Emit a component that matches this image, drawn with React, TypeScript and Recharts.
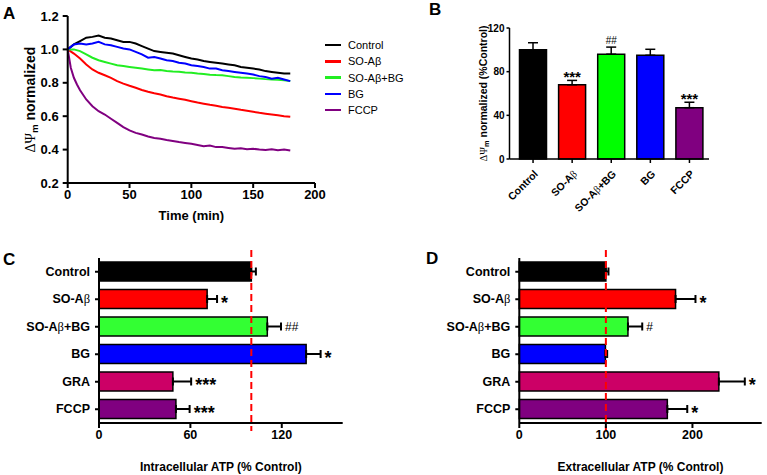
import React from 'react';
import {
  LineChart, Line, XAxis, YAxis, ComposedChart, Bar, ErrorBar, Cell, LabelList, ReferenceLine,
} from 'recharts';

const SANS = '"Liberation Sans", Arial, sans-serif';
const SERIF = '"Liberation Serif", "DejaVu Serif", serif';

// A: normalized ΔΨm over time, one reading every 5 min
const TIME_MIN = [0, 5, 10, 15, 20, 25, 30, 35, 40, 45, 50, 55, 60, 65, 70, 75, 80, 85, 90, 95, 100, 105, 110, 115, 120, 125, 130, 135, 140, 145, 150, 155, 160, 165, 170, 175, 180];
const CONTROL_TRACE = [1.0, 1.03, 1.05, 1.07, 1.075, 1.083, 1.07, 1.065, 1.055, 1.045, 1.045, 1.035, 1.02, 1.005, 0.99, 0.985, 0.98, 0.975, 0.965, 0.955, 0.945, 0.94, 0.93, 0.925, 0.92, 0.915, 0.91, 0.905, 0.895, 0.89, 0.885, 0.88, 0.87, 0.865, 0.86, 0.855, 0.855];
const SOAB_TRACE = [1.0, 0.975, 0.945, 0.91, 0.88, 0.86, 0.845, 0.83, 0.81, 0.795, 0.782, 0.77, 0.757, 0.746, 0.737, 0.73, 0.72, 0.712, 0.705, 0.698, 0.69, 0.682, 0.675, 0.668, 0.662, 0.655, 0.65, 0.645, 0.638, 0.632, 0.626, 0.62, 0.615, 0.61, 0.605, 0.6, 0.596];
const SOAB_BG_TRACE = [1.0, 1.0, 0.99, 0.97, 0.95, 0.935, 0.925, 0.915, 0.905, 0.9, 0.895, 0.89, 0.885, 0.88, 0.875, 0.876, 0.87, 0.867, 0.866, 0.862, 0.86, 0.855, 0.852, 0.848, 0.846, 0.845, 0.84, 0.835, 0.832, 0.83, 0.828, 0.825, 0.822, 0.82, 0.818, 0.815, 0.81];
const BG_TRACE = [1.0, 1.03, 1.035, 1.03, 1.035, 1.045, 1.03, 1.025, 1.015, 1.005, 1.0, 0.985, 0.97, 0.95, 0.955, 0.945, 0.935, 0.93, 0.92, 0.915, 0.905, 0.9, 0.895, 0.885, 0.885, 0.875, 0.87, 0.865, 0.86, 0.855, 0.85, 0.84, 0.835, 0.825, 0.83, 0.82, 0.81];
// FCCP falls fast, so the first minutes are sampled more densely
const FCCP_TIME = [0, 2.5, 5, 7.5, 10, 15, 20, 25, 30, 35, 40, 45, 50, 55, 60, 65, 70, 75, 80, 85, 90, 95, 100, 105, 110, 115, 120, 125, 130, 135, 140, 145, 150, 155, 160, 165, 170, 175, 180];
const FCCP_TRACE = [1.0, 0.89, 0.83, 0.79, 0.755, 0.7, 0.66, 0.63, 0.61, 0.585, 0.56, 0.535, 0.515, 0.5, 0.49, 0.478, 0.47, 0.465, 0.458, 0.452, 0.445, 0.44, 0.435, 0.428, 0.42, 0.425, 0.415, 0.415, 0.41, 0.405, 0.408, 0.402, 0.405, 0.4, 0.398, 0.402, 0.396, 0.4, 0.394];

// B: ΔΨm normalized (% control), mean and upper SEM
const B_GROUPS = ['Control', 'SO-Aβ', 'SO-Aβ+BG', 'BG', 'FCCP'];
const B_MEAN = [100, 68, 96, 95, 47];
const B_SEM = [6.5, 4, 6.5, 5.5, 5];
const B_MARKS = ['', '***', '##', '', '***'];
const B_COLORS = ['#000000', '#ff0000', '#00ff00', '#0000ff', '#800080'];

// C/D: intracellular and extracellular ATP (% control)
const ATP_GROUPS = ['Control', 'SO-Aβ', 'SO-Aβ+BG', 'BG', 'GRA', 'FCCP'];
const ATP_COLORS = ['#000000', '#ff0000', '#33ff33', '#0000ff', '#cc0066', '#800080'];
const INTRA_MEAN = [100, 71, 110.5, 136, 48.5, 50.5];
const INTRA_SEM = [3, 6.5, 9, 9.5, 12, 9];
const INTRA_MARKS = ['', '*', '##', '*', '***', '***'];
const EXTRA_MEAN = [100, 180.5, 125.5, 99.5, 230.5, 171];
const EXTRA_SEM = [3, 23, 16.5, 2, 30, 23];
const EXTRA_MARKS = ['', '*', '#', '', '*', '*'];

const traces = [
  { name: 'Control', color: '#000000', time: TIME_MIN, values: CONTROL_TRACE },
  { name: 'SO-Aβ', color: '#ff0000', time: TIME_MIN, values: SOAB_TRACE },
  { name: 'SO-Aβ+BG', color: '#22ee22', time: TIME_MIN, values: SOAB_BG_TRACE },
  { name: 'BG', color: '#0000ff', time: TIME_MIN, values: BG_TRACE },
  { name: 'FCCP', color: '#800080', time: FCCP_TIME, values: FCCP_TRACE },
].map((s) => ({ ...s, data: s.time.map((t, i) => ({ t, v: s.values[i] })) }));

const bRows = B_GROUPS.map((name, i) => ({
  name, v: B_MEAN[i], e: [0, B_SEM[i]], top: B_MEAN[i] + B_SEM[i], mark: B_MARKS[i],
}));
const rowsFor = (mean: number[], sem: number[], marks: string[]) => ATP_GROUPS.map((name, i) => ({
  name, v: mean[i], e: [0, sem[i]], end: mean[i] + sem[i], mark: marks[i],
}));
const intraRows = rowsFor(INTRA_MEAN, INTRA_SEM, INTRA_MARKS);
const extraRows = rowsFor(EXTRA_MEAN, EXTRA_SEM, EXTRA_MARKS);

const axisLine = { stroke: '#000', strokeWidth: 2 };
const thinLine = { stroke: '#000', strokeWidth: 1.5 };
const boldTick = (size: number) => ({ fill: '#000', fontSize: size, fontWeight: 'bold', fontFamily: SANS });

// β is set in a serif face, as in the group names of the figure
const groupName = (name: string) => {
  const parts = name.split('β');
  return parts.flatMap((p, i) => (i === 0 ? [p] : [
    <tspan key={i} fontFamily={SERIF} fontWeight="normal">β</tspan>, p,
  ]));
};

const deltaPsiTitle = (offsetX: number, size: number, suffix: string) => (props: any) => {
  const vb = props.viewBox;
  const cx = vb.x + offsetX;
  const cy = vb.y + vb.height / 2;
  return (
    <text x={cx} y={cy} transform={`rotate(-90 ${cx} ${cy})`} textAnchor="middle" dominantBaseline="central"
      fill="#000" fontFamily={SANS} fontSize={size} fontWeight="bold">
      <tspan fontFamily={SERIF} fontWeight="normal">ΔΨ</tspan>
      <tspan fontSize={size * 0.7} dy={size * 0.3}>m</tspan>
      <tspan dy={-size * 0.3}>{suffix}</tspan>
    </text>
  );
};

const bottomTitle = (text: string, dy: number, size: number) => (props: any) => {
  const vb = props.viewBox;
  return (
    <text x={vb.x + vb.width / 2} y={vb.y + dy} textAnchor="middle" fill="#000"
      fontFamily={SANS} fontSize={size} fontWeight="bold">{text}</text>
  );
};

const slantTick = (props: any) => {
  const { x, y, payload } = props;
  return (
    <g transform={`translate(${x + 3},${y + 7}) rotate(-45)`}>
      <text textAnchor="end" dy="0.35em" fill="#000" fontFamily={SANS} fontSize={10.5} fontWeight="bold">
        {groupName(payload.value)}
      </text>
    </g>
  );
};

const groupTick = (props: any) => {
  const { x, y, payload } = props;
  return (
    <text x={x} y={y} textAnchor="end" dominantBaseline="central" fill="#000"
      fontFamily={SANS} fontSize={12.5} fontWeight="bold">{groupName(payload.value)}</text>
  );
};

// significance marks sit past the end of each error bar
const markLabel = (side: 'top' | 'right') => (props: any) => {
  const value = props.value;
  if (!value) return null;
  const vb = props.viewBox || {};
  const x = vb.x ?? props.x;
  const y = vb.y ?? props.y;
  const star = String(value).includes('*');
  if (side === 'top') {
    const size = star ? 15 : 10;
    return (
      <text x={x} y={star ? y + 2 : y - 3} textAnchor="middle" fill="#000" fontFamily={SANS}
        fontSize={size} fontWeight={star ? 'bold' : 'normal'}>{value}</text>
    );
  }
  const size = star ? 18 : 12;
  return (
    <text x={x + 4} y={y + (star ? 9.5 : 4.5)} textAnchor="start" fill="#000" fontFamily={SANS}
      fontSize={size} fontWeight={star ? 'bold' : 'normal'}>{value}</text>
  );
};

// dashed 100 % line, running a little past the plot top and bottom
const controlLine = (p: any) => (
  <line x1={p.x1} x2={p.x2} y1={Math.min(p.y1, p.y2) - 8} y2={Math.max(p.y1, p.y2) + 8}
    stroke="#ff0000" strokeWidth={2} strokeDasharray="7 4" />
);

const Letter = ({ x, y, children }: { x: number; y: number; children: string }) => (
  <div style={{ position: 'absolute', left: x, top: y, fontFamily: SANS, fontWeight: 'bold', fontSize: 17, lineHeight: '17px' }}>
    {children}
  </div>
);

const at = (left: number, top: number): React.CSSProperties => ({ position: 'absolute', left, top });

const AtpPanel = ({ rows, max, ticks, title, yWidth, width, right }: any) => (
  <ComposedChart layout="vertical" width={width} height={235} data={rows}
    margin={{ top: 18, right, bottom: 16, left: 0 }}>
    <XAxis type="number" domain={[0, max]} ticks={ticks} height={36} axisLine={axisLine}
      tickLine={axisLine} tickSize={5} tickMargin={2} tick={boldTick(12.5)} label={bottomTitle(title, 48, 12)} />
    <YAxis type="category" dataKey="name" width={yWidth} axisLine={axisLine} tickLine={axisLine}
      tickSize={4} tickMargin={5} tick={groupTick} interval={0} />
    <Bar dataKey="v" barSize={19} stroke="#000" strokeWidth={1.5} isAnimationActive={false}>
      {rows.map((r: any, i: number) => <Cell key={r.name} fill={ATP_COLORS[i]} />)}
      <ErrorBar dataKey="e" direction="x" width={4} stroke="#000" strokeWidth={2} isAnimationActive={false} />
    </Bar>
    <ReferenceLine x={100} shape={controlLine} />
    <Line dataKey="end" stroke="none" dot={false} activeDot={false} legendType="none" isAnimationActive={false}>
      <LabelList dataKey="mark" content={markLabel('right')} />
    </Line>
  </ComposedChart>
);

export default function App() {
  return (
    <div style={{ position: 'absolute', left: 0, top: 0, width: 767, height: 475, background: '#fff', overflow: 'hidden' }}>
      <div style={at(0, 0)}>
        <LineChart width={330} height={230} margin={{ top: 16, right: 15, bottom: 24, left: 0 }}>
          <XAxis type="number" dataKey="t" domain={[0, 200]} ticks={[0, 50, 100, 150, 200]} height={23}
            axisLine={axisLine} tickLine={axisLine} tickSize={5} tickMargin={2} tick={boldTick(13)}
            label={bottomTitle('Time (min)', 37, 13)} />
          <YAxis type="number" domain={[0.2, 1.2]} ticks={[0.2, 0.4, 0.6, 0.8, 1.0, 1.2]} width={67.7}
            tickFormatter={(v: number) => v.toFixed(1)} axisLine={axisLine} tickLine={axisLine}
            tickSize={5} tickMargin={4} tick={boldTick(13)} label={deltaPsiTitle(30, 14, ' normalized')} />
          {traces.map((s) => (
            <Line key={s.name} data={s.data} dataKey="v" name={s.name} stroke={s.color} strokeWidth={2}
              dot={false} isAnimationActive={false} />
          ))}
        </LineChart>
      </div>
      <div style={{ ...at(325, 37), fontFamily: SANS, fontSize: 11 }}>
        {traces.map((s) => (
          <div key={s.name} style={{ display: 'flex', alignItems: 'center', height: 16.25 }}>
            <span style={{ display: 'inline-block', width: 16, height: 2.5, background: s.color, marginRight: 7 }} />
            {s.name}
          </div>
        ))}
      </div>

      <div style={at(440, 0)}>
        <ComposedChart width={327} height={240} data={bRows} margin={{ top: 28, right: 58, bottom: 21, left: 0 }}>
          <XAxis dataKey="name" type="category" height={60} padding={{ left: 4, right: 0 }} interval={0}
            axisLine={thinLine} tickLine={thinLine} tickSize={4} tickMargin={2} tick={slantTick} />
          <YAxis type="number" domain={[0, 120]} ticks={[0, 40, 80, 120]} width={69.5}
            axisLine={thinLine} tickLine={thinLine} tickSize={3} tickMargin={2} tick={boldTick(10)}
            label={deltaPsiTitle(43, 10.5, ' normalized (%Control)')} />
          <Bar dataKey="v" barSize={27} stroke="#000" strokeWidth={1.5} isAnimationActive={false}>
            {bRows.map((r, i) => <Cell key={r.name} fill={B_COLORS[i]} />)}
            <ErrorBar dataKey="e" direction="y" width={5} stroke="#000" strokeWidth={1.5} isAnimationActive={false} />
          </Bar>
          <Line dataKey="top" stroke="none" dot={false} activeDot={false} legendType="none" isAnimationActive={false}>
            <LabelList dataKey="mark" content={markLabel('top')} />
          </Line>
        </ComposedChart>
      </div>

      <div style={at(0, 240)}>
        <AtpPanel rows={intraRows} max={160} ticks={[0, 60, 120]} title="Intracellular ATP (% Control)"
          yWidth={99} width={390} right={47.3} />
      </div>
      <div style={at(390, 240)}>
        <AtpPanel rows={extraRows} max={280} ticks={[0, 100, 200]} title="Extracellular ATP (% Control)"
          yWidth={129.3} width={377} right={5.3} />
      </div>

      <Letter x={3} y={5}>A</Letter>
      <Letter x={429} y={1}>B</Letter>
      <Letter x={3} y={251}>C</Letter>
      <Letter x={426} y={250}>D</Letter>
    </div>
  );
}
